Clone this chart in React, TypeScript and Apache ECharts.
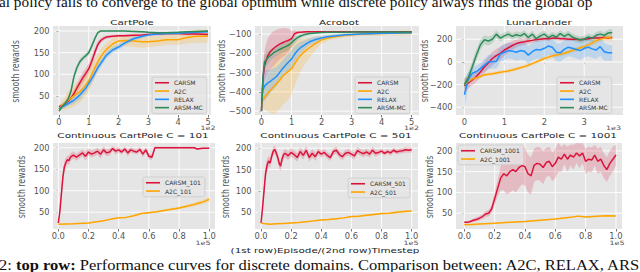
import React, { useEffect, useRef } from 'react';
import * as echarts from 'echarts';

// ---------- CartPole (x in 1e2 episodes) ----------
const cpX = [0, 0.1, 0.2, 0.3, 0.4, 0.5, 0.6, 0.7, 0.8, 0.9, 1.0, 1.1, 1.2, 1.3, 1.4, 1.5, 1.6, 1.8, 2.0, 2.2, 2.5, 2.8, 3.0, 3.3, 3.6, 4.0, 4.3, 4.6, 5.0];
const cpCarsm = [25, 28, 32, 38, 45, 55, 68, 80, 92, 102, 113, 130, 150, 168, 178, 183, 186, 188, 189, 189, 190, 191, 192, 193, 194, 194, 193, 193, 192];
const cpA2c = [20, 28, 33, 40, 45, 50, 55, 60, 67, 75, 85, 100, 115, 128, 140, 150, 158, 170, 177, 178, 177, 175, 175, 177, 180, 180, 185, 188, 188];
const cpRelax = [20, 25, 28, 32, 36, 40, 46, 52, 60, 68, 79, 90, 102, 115, 125, 135, 145, 156, 163, 172, 182, 188, 191, 193, 194, 195, 196, 197, 198];
const cpArsm = [15, 25, 32, 42, 60, 94, 115, 129, 137, 143, 150, 165, 182, 196, 200, 200, 200, 200, 200, 200, 199, 198, 197, 196, 196, 197, 198, 199, 200];
const cpCarsmSd = [3, 4, 5, 6, 7, 8, 10, 12, 12, 12, 12, 12, 10, 8, 6, 5, 4, 3, 3, 3, 3, 3, 3, 3, 3, 3, 3, 3, 3];
const cpA2cSd = [5, 10, 15, 20, 22, 25, 25, 25, 25, 25, 25, 25, 22, 20, 18, 16, 15, 14, 13, 13, 14, 14, 12, 12, 12, 12, 14, 15, 15];
const cpRelaxSd = [4, 5, 6, 6, 7, 8, 8, 10, 10, 10, 10, 10, 10, 10, 9, 8, 8, 7, 7, 6, 5, 4, 4, 3, 3, 3, 3, 3, 3];
const cpArsmSd = [4, 5, 6, 6, 6, 8, 8, 7, 6, 6, 6, 6, 5, 3, 1, 1, 1, 1, 1, 1, 2, 2, 2, 2, 2, 2, 2, 1, 1];

// ---------- Acrobot (x in 1e2 episodes) ----------
const acX = [0, 0.05, 0.1, 0.2, 0.3, 0.4, 0.5, 0.6, 0.7, 0.8, 0.9, 1.0, 1.1, 1.2, 1.3, 1.4, 1.5, 1.6, 1.8, 2.0, 2.2, 2.5, 2.8, 3.0, 3.3, 3.6, 4.0, 4.3, 4.6, 5.0];
const acCarsm = [-500, -330, -265, -215, -190, -175, -162, -152, -145, -138, -132, -124, -98, -92, -90, -89, -88, -88, -88, -88, -88, -88, -88, -88, -88, -88, -88, -88, -88, -88];
const acA2c = [-380, -440, -430, -410, -390, -375, -358, -340, -320, -305, -292, -280, -255, -230, -210, -195, -182, -170, -148, -130, -120, -112, -106, -104, -100, -98, -97, -96, -95, -94];
const acRelax = [-440, -390, -370, -355, -345, -332, -320, -300, -280, -262, -245, -230, -205, -185, -170, -160, -150, -140, -128, -120, -114, -108, -104, -102, -100, -98, -96, -95, -94, -93];
const acArsm = [-500, -320, -245, -225, -210, -198, -188, -180, -172, -165, -158, -145, -130, -118, -110, -104, -100, -97, -94, -92, -91, -90, -90, -89, -89, -89, -89, -89, -89, -89];
const acCarsmSd = [5, 60, 80, 90, 90, 90, 85, 80, 75, 70, 60, 40, 15, 8, 5, 4, 3, 3, 3, 3, 3, 3, 3, 3, 3, 3, 3, 3, 3, 3];
const acA2cSd = [40, 40, 60, 90, 120, 140, 150, 150, 150, 150, 145, 135, 115, 100, 85, 70, 60, 50, 35, 20, 15, 12, 10, 10, 10, 10, 10, 10, 12, 12];
const acRelaxSd = [40, 60, 80, 70, 60, 55, 50, 45, 45, 45, 45, 45, 40, 35, 30, 25, 20, 18, 15, 12, 10, 8, 6, 5, 5, 5, 5, 5, 5, 5];
const acArsmSd = [10, 60, 40, 35, 30, 28, 25, 25, 25, 25, 25, 25, 20, 15, 12, 10, 8, 6, 5, 4, 4, 3, 3, 3, 3, 3, 3, 3, 3, 3];

// ---------- LunarLander (x in 1e3 episodes) ----------
const llX = [0, 0.1, 0.2, 0.3, 0.4, 0.5, 0.6, 0.7, 0.8, 0.9, 1.0, 1.1, 1.2, 1.3, 1.4, 1.5, 1.6, 1.7, 1.8, 1.9, 2.0, 2.1, 2.2, 2.3, 2.4, 2.5, 2.6, 2.7, 2.8, 2.9, 3.0, 3.1, 3.2, 3.3, 3.4, 3.5, 3.6, 3.7];
const llCarsm = [-210, -185, -160, -130, -90, -45, -10, 30, 55, 75, 105, 125, 145, 162, 172, 178, 185, 190, 197, 200, 205, 205, 208, 210, 205, 205, 200, 200, 200, 195, 200, 205, 210, 212, 210, 215, 212, 215];
const llA2c = [-200, -175, -150, -140, -130, -115, -110, -105, -98, -92, -86, -80, -72, -62, -52, -42, -30, -15, 0, 15, 30, 42, 52, 60, 68, 76, 88, 100, 112, 125, 135, 150, 168, 188, 200, 210, 218, 205];
const llRelax = [-290, -150, -100, -85, -60, -30, 0, 2, 5, 70, 85, 100, 95, 85, 100, 95, 60, 90, 110, 105, 120, 140, 130, 85, 80, 110, 130, 120, 110, 100, 120, 130, 115, 105, 135, 90, 80, 80];
const llArsm = [-200, -140, -40, 60, 150, 195, 185, 200, 245, 210, 230, 245, 225, 240, 230, 250, 215, 245, 205, 230, 245, 215, 235, 220, 250, 225, 245, 220, 205, 195, 200, 220, 210, 235, 245, 235, 255, 260];
const llCarsmSd = [70, 50, 45, 45, 50, 55, 55, 60, 60, 55, 50, 45, 40, 35, 30, 28, 25, 22, 20, 18, 15, 15, 15, 15, 15, 15, 15, 15, 15, 15, 15, 15, 15, 15, 15, 15, 15, 15];
const llA2cSd = [30, 20, 15, 15, 15, 15, 15, 15, 15, 15, 15, 15, 15, 15, 15, 15, 15, 15, 15, 15, 15, 18, 18, 18, 20, 20, 20, 20, 20, 20, 25, 25, 25, 25, 25, 25, 25, 25];
const llRelaxSd = [120, 60, 50, 50, 50, 55, 60, 60, 65, 70, 70, 70, 70, 75, 80, 80, 80, 80, 80, 80, 80, 80, 80, 80, 80, 80, 80, 80, 80, 80, 80, 80, 80, 80, 80, 80, 70, 70];
const llArsmSd = [50, 50, 50, 50, 45, 40, 40, 35, 35, 30, 30, 30, 30, 30, 30, 30, 30, 30, 30, 30, 30, 30, 30, 30, 30, 30, 30, 30, 30, 30, 30, 30, 30, 30, 30, 30, 30, 30];

// ---------- Continuous CartPole C = 101 (x in 1e5 timesteps) ----------
const c101X = [0, 0.01, 0.02, 0.03, 0.04, 0.05, 0.06, 0.07, 0.08, 0.1, 0.12, 0.14, 0.16, 0.18, 0.2, 0.22, 0.24, 0.26, 0.28, 0.3, 0.32, 0.34, 0.36, 0.38, 0.4, 0.42, 0.44, 0.46, 0.48, 0.5, 0.52, 0.54, 0.56, 0.58, 0.6, 0.62, 0.64, 0.7, 0.8, 0.9, 0.92, 0.94, 0.96, 1.0];
const c101Carsm = [25, 50, 90, 130, 155, 165, 172, 170, 178, 183, 178, 183, 188, 180, 190, 185, 188, 192, 185, 195, 188, 190, 198, 192, 195, 190, 197, 188, 195, 192, 190, 196, 185, 195, 180, 178, 200, 200, 200, 200, 197, 198, 199, 199];
const c101CarsmSd = [3, 10, 15, 15, 12, 12, 10, 10, 10, 8, 8, 8, 8, 10, 8, 8, 8, 8, 10, 8, 8, 8, 6, 8, 6, 6, 6, 8, 6, 6, 6, 6, 8, 6, 8, 6, 2, 2, 2, 2, 2, 2, 2, 2];
const c101A2cX = [0, 0.1, 0.2, 0.3, 0.35, 0.4, 0.45, 0.5, 0.55, 0.6, 0.65, 0.7, 0.75, 0.8, 0.85, 0.9, 0.95, 1.0];
const c101A2c = [22, 23, 25, 30, 34, 37, 38, 42, 47, 49, 51, 54, 57, 60, 64, 68, 73, 80];
const c101A2cSd = [1, 1, 1, 1, 1.5, 1.5, 1.5, 2, 2, 2, 2, 2.5, 3, 3, 3.5, 4, 5, 6];

// ---------- Continuous CartPole C = 501 ----------
const c501X = [0, 0.01, 0.02, 0.03, 0.04, 0.05, 0.06, 0.07, 0.08, 0.09, 0.1, 0.11, 0.12, 0.13, 0.14, 0.15, 0.16, 0.18, 0.2, 0.22, 0.24, 0.26, 0.28, 0.3, 0.32, 0.34, 0.36, 0.38, 0.4, 0.42, 0.44, 0.46, 0.48, 0.5, 0.52, 0.54, 0.56, 0.58, 0.6, 0.62, 0.64, 0.66, 0.68, 0.7, 0.72, 0.74, 0.76, 0.78, 0.8, 0.82, 0.84, 0.86, 0.88, 0.9, 0.92, 0.94, 0.96, 0.98, 1.0];
const c501Carsm = [25, 60, 100, 140, 160, 170, 165, 180, 192, 197, 190, 180, 165, 158, 175, 185, 188, 182, 190, 185, 178, 192, 183, 195, 178, 188, 180, 192, 186, 190, 183, 178, 192, 195, 185, 180, 188, 190, 186, 182, 194, 190, 187, 191, 186, 195, 188, 190, 193, 188, 192, 189, 195, 191, 193, 194, 196, 195, 196];
const c501CarsmSd = [2, 8, 12, 15, 15, 12, 12, 10, 10, 10, 10, 10, 12, 12, 10, 10, 10, 10, 10, 10, 10, 10, 10, 10, 10, 10, 10, 8, 8, 8, 8, 8, 8, 8, 8, 8, 8, 8, 8, 8, 8, 8, 8, 8, 8, 8, 8, 6, 6, 6, 6, 6, 6, 6, 6, 6, 6, 6, 6];
const c501A2cX = [0, 0.03, 0.06, 0.1, 0.15, 0.2, 0.25, 0.3, 0.35, 0.4, 0.45, 0.5, 0.55, 0.6, 0.65, 0.7, 0.75, 0.8, 0.85, 0.9, 0.95, 1.0];
const c501A2c = [25, 23, 22, 23, 24, 25, 26, 28, 30, 32, 33, 35, 37, 40, 41, 43, 45, 47, 48, 50, 52, 53];
const c501A2cSd = [1, 1, 1, 1, 1, 1, 1, 1, 1.5, 1.5, 1.5, 1.5, 1.5, 2, 2, 2, 2, 2, 2.5, 2.5, 3, 3];

// ---------- Continuous CartPole C = 1001 ----------
const c1001X = [0, 0.02, 0.04, 0.06, 0.08, 0.1, 0.12, 0.14, 0.16, 0.18, 0.2, 0.22, 0.24, 0.26, 0.28, 0.3, 0.32, 0.34, 0.36, 0.38, 0.4, 0.42, 0.44, 0.46, 0.48, 0.5, 0.52, 0.54, 0.56, 0.58, 0.6, 0.62, 0.64, 0.66, 0.68, 0.7, 0.72, 0.74, 0.76, 0.78, 0.8, 0.82, 0.84, 0.86, 0.88, 0.9, 0.92, 0.94, 0.96, 0.98, 1.0];
const c1001Carsm = [28, 28, 30, 33, 35, 38, 42, 48, 50, 60, 85, 110, 135, 145, 140, 150, 155, 150, 160, 165, 162, 145, 140, 165, 170, 168, 160, 172, 175, 162, 170, 185, 180, 192, 180, 190, 185, 195, 188, 195, 175, 180, 178, 190, 175, 180, 165, 155, 170, 180, 190];
const c1001CarsmSd = [3, 3, 3, 4, 5, 5, 6, 7, 8, 10, 15, 20, 30, 40, 45, 50, 50, 50, 50, 45, 45, 45, 45, 40, 40, 40, 40, 35, 35, 35, 35, 35, 30, 24, 30, 25, 30, 24, 30, 24, 30, 30, 30, 25, 30, 30, 30, 30, 30, 30, 25];
const c1001A2cX = [0, 0.05, 0.1, 0.2, 0.3, 0.4, 0.5, 0.6, 0.7, 0.75, 0.8, 0.85, 0.9, 0.95, 1.0];
const c1001A2c = [22, 23, 24, 26, 28, 30, 33, 36, 40, 43, 41, 42, 43, 44, 43];
const c1001A2cSd = [1, 1, 1, 1, 1, 1, 1.5, 1.5, 1.5, 1.5, 1.5, 1.5, 1.5, 1.5, 1.5];

// ---------- ticks ----------
const topXTicks = [0, 1, 2, 3, 4, 5];
const llXTicks = [0, 1, 2, 3];
const botXTicks = [0, 0.2, 0.4, 0.6, 0.8, 1.0];
const cpYTicks = [50, 100, 150, 200];
const acYTicks = [-500, -400, -300, -200, -100];
const llYTicks = [-400, -200, 0, 200];
const botYTicks = [50, 100, 150, 200];

const RED = '#DC143C';
const ORANGE = '#FFA500';
const BLUE = '#1E90FF';
const GREEN = '#2E8B57';
const FONT = 'DejaVu Sans';

const panels = [
  { grid: { left: 53, top: 26, width: 158, height: 89 }, x: [-0.2, 5.1], y: [6, 211.5], xt: topXTicks, yt: cpYTicks, dec: false },
  { grid: { left: 255, top: 26, width: 164, height: 89 }, x: [-0.216, 5.243], y: [-520, -58], xt: topXTicks, yt: acYTicks, dec: false },
  { grid: { left: 456, top: 26, width: 167, height: 89 }, x: [-0.21, 3.97], y: [-469, 317], xt: llXTicks, yt: llYTicks, dec: false },
  { grid: { left: 53, top: 143, width: 162, height: 86 }, x: [-0.035, 1.038], y: [11, 211], xt: botXTicks, yt: botYTicks, dec: true },
  { grid: { left: 255, top: 143, width: 163, height: 86 }, x: [-0.04, 1.042], y: [11, 212], xt: botXTicks, yt: botYTicks, dec: true },
  { grid: { left: 456, top: 143, width: 166, height: 86 }, x: [-0.055, 1.04], y: [12, 219], xt: botXTicks, yt: botYTicks, dec: true },
];

const fmtNum = (v: number) => (v < 0 ? '\u2212' + Math.abs(v) : String(v));

function lineSeries(i: number, name: string, color: string, xs: number[], ys: number[]) {
  return {
    type: 'line', name, xAxisIndex: i, yAxisIndex: i, z: 3,
    data: xs.map((x, k) => [x, ys[k]]),
    showSymbol: false, symbol: 'none', clip: true,
    lineStyle: { color, width: 1.5 }, itemStyle: { color },
  };
}

function bandSeries(i: number, color: string, xs: number[], mean: number[], sd: number[]) {
  return {
    type: 'custom', xAxisIndex: i, yAxisIndex: i, z: 2, silent: true,
    data: [[xs[0], mean[0]]],
    renderItem: (_p: any, api: any) => {
      const pts: number[][] = [];
      for (let k = 0; k < xs.length; k++) pts.push(api.coord([xs[k], mean[k] + sd[k]]));
      for (let k = xs.length - 1; k >= 0; k--) pts.push(api.coord([xs[k], mean[k] - sd[k]]));
      return { type: 'polygon', shape: { points: pts }, style: { fill: color, opacity: 0.2 } };
    },
  };
}

function gridLineSeries(i: number) {
  const p = panels[i];
  return {
    type: 'custom', xAxisIndex: i, yAxisIndex: i, z: 1, silent: true,
    data: [[p.x[0], p.y[0]]],
    renderItem: (_p: any, api: any) => {
      const children: any[] = [];
      p.xt.forEach((v) => {
        const a = api.coord([v, p.y[0]]);
        const b = api.coord([v, p.y[1]]);
        children.push({ type: 'line', shape: { x1: a[0], y1: a[1], x2: b[0], y2: b[1] }, style: { stroke: '#FFFFFF', lineWidth: 0.9 } });
      });
      p.yt.forEach((v) => {
        const a = api.coord([p.x[0], v]);
        const b = api.coord([p.x[1], v]);
        children.push({ type: 'line', shape: { x1: a[0], y1: a[1], x2: b[0], y2: b[1] }, style: { stroke: '#FFFFFF', lineWidth: 0.9 } });
      });
      return { type: 'group', children };
    },
  };
}

function legend(names: string[], left: number, top: number) {
  return {
    show: true, orient: 'vertical', left, top, data: names, icon: 'rect',
    itemWidth: 14, itemHeight: 1.6, itemGap: 0.8, selectedMode: false,
    padding: [2, 4, 2, 3], backgroundColor: 'rgba(229,229,229,0.8)', borderColor: '#CCCCCC', borderWidth: 0.8, borderRadius: 2,
    textStyle: { fontSize: 6, lineHeight: 7.5, color: '#333333', fontFamily: FONT },
  };
}

function txt(text: string, x: number, y: number, size: number, color: string, opts: any = {}) {
  return {
    type: 'text', x, y, scaleY: opts.scaleY ?? 0.75, scaleX: opts.scaleX ?? 1, rotation: opts.rotation ?? 0, silent: true,
    style: { text, fontSize: size, fill: color, fontFamily: opts.family ?? FONT, fontWeight: opts.weight ?? 'normal', align: opts.align ?? 'center', verticalAlign: 'middle' },
  };
}

function ylab(x: number, y: number) {
  return txt('smooth rewards', x, y, 10.4, '#555555', { rotation: Math.PI / 2, scaleX: 0.75, scaleY: 1 });
}

function buildOption() {
  const grids = panels.map((p) => ({ ...p.grid, show: true, backgroundColor: '#E5E5E5', borderWidth: 0, containLabel: false }));
  const xAxes = panels.map((p, i) => ({
    type: 'value', gridIndex: i, min: p.x[0], max: p.x[1],
    axisLine: { show: false }, splitLine: { show: false },
    axisTick: { show: true, customValues: p.xt, length: 2.5, lineStyle: { color: '#555555', width: 0.8 } },
    axisLabel: { customValues: p.xt, color: '#555555', fontSize: 8.3, fontFamily: FONT, margin: 3, formatter: (v: number) => (p.dec ? v.toFixed(1) : fmtNum(v)) },
  }));
  const yAxes = panels.map((p, i) => ({
    type: 'value', gridIndex: i, min: p.y[0], max: p.y[1],
    axisLine: { show: false }, splitLine: { show: false },
    axisTick: { show: true, customValues: p.yt, length: 2.5, lineStyle: { color: '#555555', width: 0.8 } },
    axisLabel: { customValues: p.yt, color: '#555555', fontSize: 8.3, fontFamily: FONT, margin: 3.5, formatter: (v: number) => fmtNum(v) },
  }));

  const series: any[] = [];
  for (let i = 0; i < 6; i++) series.push(gridLineSeries(i));

  // CartPole
  series.push(bandSeries(0, RED, cpX, cpCarsm, cpCarsmSd), bandSeries(0, ORANGE, cpX, cpA2c, cpA2cSd), bandSeries(0, BLUE, cpX, cpRelax, cpRelaxSd), bandSeries(0, GREEN, cpX, cpArsm, cpArsmSd));
  series.push(lineSeries(0, 'CARSM', RED, cpX, cpCarsm), lineSeries(0, 'A2C', ORANGE, cpX, cpA2c), lineSeries(0, 'RELAX', BLUE, cpX, cpRelax), lineSeries(0, 'ARSM-MC', GREEN, cpX, cpArsm));
  // Acrobot
  series.push(bandSeries(1, RED, acX, acCarsm, acCarsmSd), bandSeries(1, ORANGE, acX, acA2c, acA2cSd), bandSeries(1, BLUE, acX, acRelax, acRelaxSd), bandSeries(1, GREEN, acX, acArsm, acArsmSd));
  series.push(lineSeries(1, 'CARSM', RED, acX, acCarsm), lineSeries(1, 'A2C', ORANGE, acX, acA2c), lineSeries(1, 'RELAX', BLUE, acX, acRelax), lineSeries(1, 'ARSM-MC', GREEN, acX, acArsm));
  // LunarLander
  series.push(bandSeries(2, RED, llX, llCarsm, llCarsmSd), bandSeries(2, ORANGE, llX, llA2c, llA2cSd), bandSeries(2, BLUE, llX, llRelax, llRelaxSd), bandSeries(2, GREEN, llX, llArsm, llArsmSd));
  series.push(lineSeries(2, 'CARSM', RED, llX, llCarsm), lineSeries(2, 'A2C', ORANGE, llX, llA2c), lineSeries(2, 'RELAX', BLUE, llX, llRelax), lineSeries(2, 'ARSM-MC', GREEN, llX, llArsm));
  // Continuous
  series.push(bandSeries(3, RED, c101X, c101Carsm, c101CarsmSd), bandSeries(3, ORANGE, c101A2cX, c101A2c, c101A2cSd));
  series.push(lineSeries(3, 'CARSM_101', RED, c101X, c101Carsm), lineSeries(3, 'A2C_101', ORANGE, c101A2cX, c101A2c));
  series.push(bandSeries(4, RED, c501X, c501Carsm, c501CarsmSd), bandSeries(4, ORANGE, c501A2cX, c501A2c, c501A2cSd));
  series.push(lineSeries(4, 'CARSM_501', RED, c501X, c501Carsm), lineSeries(4, 'A2C_501', ORANGE, c501A2cX, c501A2c));
  series.push(bandSeries(5, RED, c1001X, c1001Carsm, c1001CarsmSd), bandSeries(5, ORANGE, c1001A2cX, c1001A2c, c1001A2cSd));
  series.push(lineSeries(5, 'CARSM_1001', RED, c1001X, c1001Carsm), lineSeries(5, 'A2C_1001', ORANGE, c1001A2cX, c1001A2c));

  const top4 = ['CARSM', 'A2C', 'RELAX', 'ARSM-MC'];
  const legends = [
    legend(top4, 152, 77),
    legend(top4, 355, 77),
    legend(top4, 557, 77),
    legend(['CARSM_101', 'A2C_101'], 143, 177),
    legend(['CARSM_501', 'A2C_501'], 348, 178),
    legend(['CARSM_1001', 'A2C_1001'], 458, 145),
  ];

  const graphics: any[] = [
    txt('CartPole', 132, 22, 10.4, '#222222'),
    txt('Acrobot', 339, 22, 10.4, '#222222'),
    txt('LunarLander', 539, 22, 10.4, '#222222'),
    txt('Continuous CartPole C = 101', 133, 135.5, 10.4, '#222222'),
    txt('Continuous CartPole C = 501', 336, 135.5, 10.4, '#222222'),
    txt('Continuous CartPole C = 1001', 538, 135.5, 10.4, '#222222'),
    txt('(1st row)Episode/(2nd row)Timestep', 325, 250, 10.4, '#222222'),
    ylab(15, 71.5), ylab(221, 71), ylab(424, 71),
    ylab(21.5, 187), ylab(225, 187), ylab(429, 187),
    txt('1e2', 208, 127.5, 8, '#555555'),
    txt('1e2', 411.5, 127.5, 8, '#555555'),
    txt('1e3', 613.5, 127.5, 8, '#555555'),
    txt('1e5', 203, 243, 8, '#555555'),
    txt('1e5', 411, 243, 8, '#555555'),
    txt('1e5', 617, 243, 8, '#555555'),
    {
      type: 'text', x: -1, y: 2, scaleX: 1.02, silent: true,
      style: { text: 'al policy fails to converge to the global optimum while discrete policy always finds the global op', fontSize: 15, fill: '#111111', fontFamily: 'Liberation Serif', align: 'left', verticalAlign: 'middle' },
    },
    {
      type: 'text', x: -1, y: 264.5, scaleX: 1.1, silent: true,
      style: {
        text: '{n|2: }{b|top row:}{n| Performance curves for discrete domains. Comparison between: A2C, RELAX, ARS}',
        align: 'left', verticalAlign: 'middle',
        rich: {
          n: { fontSize: 15, fill: '#111111', fontFamily: 'Liberation Serif' },
          b: { fontSize: 15, fill: '#111111', fontFamily: 'Liberation Serif', fontWeight: 'bold' },
        },
      },
    },
  ];

  return {
    animation: false,
    backgroundColor: '#FFFFFF',
    grid: grids,
    xAxis: xAxes,
    yAxis: yAxes,
    legend: legends,
    series,
    graphic: graphics,
  };
}

export default function App() {
  const ref = useRef<HTMLDivElement>(null);
  useEffect(() => {
    const chart = echarts.init(ref.current as HTMLDivElement, null, { renderer: 'svg' });
    chart.setOption(buildOption() as any);
    return () => chart.dispose();
  }, []);
  return <div ref={ref} style={{ position: 'absolute', left: 0, top: 0, width: 640, height: 272, background: '#FFFFFF' }} />;
}
